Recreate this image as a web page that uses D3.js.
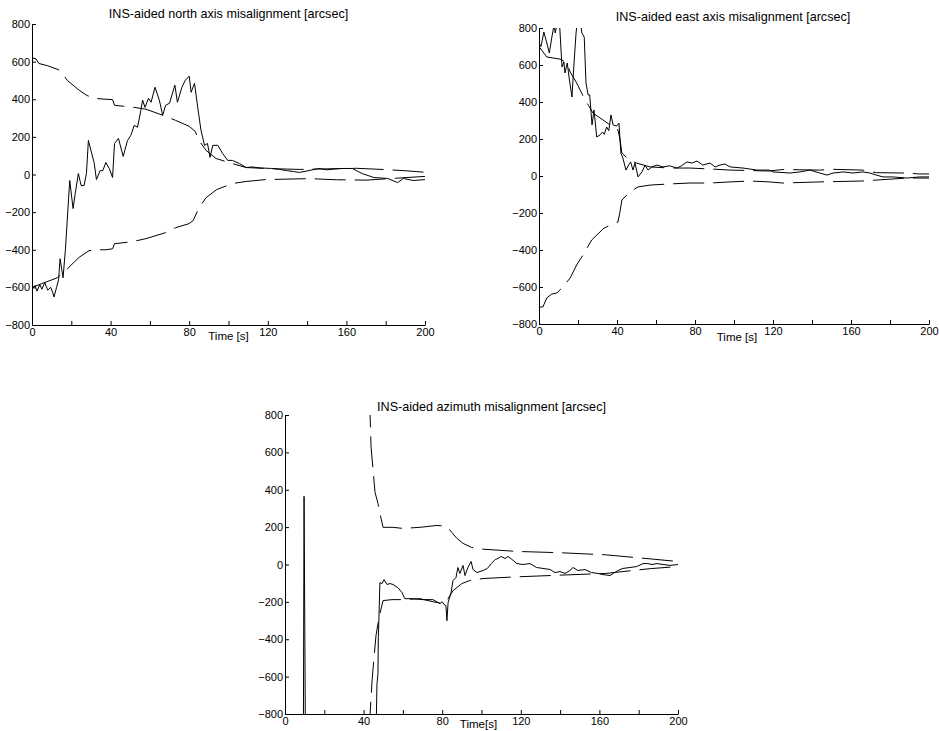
<!DOCTYPE html>
<html lang="en">
<head>
<meta charset="UTF-8">
<title>INS-aided misalignment</title>
<script src="https://d3js.org/d3.v7.min.js"></script>
<style>
    body { margin: 0; background: #fff; }
    svg { font-family: "Liberation Sans", Arial, sans-serif; }
    .axis text { font-size: 11px; fill: #000; }
    .axis path, .axis line { stroke: #000; }
    .title { font-size: 12.6px; fill: #000; }
    .xlabel { font-size: 11.5px; fill: #000; }
</style>
</head>
<body>
<div id="chart"></div>
<script>
// time [s] / misalignment [arcsec] pairs
const northEst = [[0,-608],[1.5,-590],[2.5,-620],[4,-585],[5,-610],[6.5,-575],[8,-615],[9.5,-600],[10.5,-625],[11.2,-651],[12.5,-600],[13.5,-560],[14.3,-448],[15.8,-549],[17,-400],[19.2,-32],[20.9,-181],[22,-101],[23.6,5],[25,-59],[26.5,-59],[27.7,5],[28.7,181],[30.2,120],[31.6,64],[32.8,-27],[34.7,21],[36,20],[37.6,64],[39.3,32],[41,-16],[42,165],[44,192],[46.4,96],[48.6,181],[50.3,208],[52,261],[53.7,251],[55.4,341],[56.3,395],[57.5,357],[59.3,405],[60.6,384],[62.6,464],[64.8,395],[66.5,315],[68,368],[70,379],[72.7,475],[74,384],[76.3,464],[78,501],[80,523],[81,437],[82.7,485],[84.4,352],[86,235],[87.8,155],[89.3,165],[90.6,91],[92,155],[94.6,155],[97,112],[99.6,75],[102,75],[105.6,58],[109,37],[112,40],[116,35],[122,32],[126,27],[130,20],[133,16],[136,11],[141,21],[146,32],[150,25],[157,32],[163,32],[168,5],[174,-16],[181,-21],[186,-43],[189,-21],[194,-32],[200,-27]];
const northUpper = [[0,620],[2,615],[3.5,590],[8,578],[14,555],[18,500],[24,448],[28,420],[31.6,405],[37.6,400],[41,398],[42,368],[52,357],[58,347],[66.5,315],[73,288],[80,256],[83,230],[85,181],[88.6,128],[93.7,85],[102,58],[109,37],[119,32],[136,27],[150,30],[165,33],[180,26],[190,20],[200,12]];
const northLower = [[0,-600],[5,-580],[12.9,-549],[18,-501],[24,-440],[29,-405],[32.5,-400],[37.6,-400],[41,-395],[42,-368],[51,-357],[58,-341],[68,-309],[73,-283],[80,-261],[82,-245],[85,-176],[88.6,-123],[94,-80],[102,-48],[109,-37],[119,-27],[141,-22],[155,-28],[170,-30],[185,-20],[200,-10]];

const eastEst = [[0,719],[1,700],[2.5,778],[4,719],[5.3,665],[6.6,751],[7.8,820],[8.3,773],[9.5,830],[10.5,830],[11.8,589],[12.8,616],[13.3,557],[14.5,611],[15.4,535],[16.9,427],[17.5,535],[19,773],[19.8,850],[21,850],[22,773],[23.2,751],[24.1,503],[25.2,438],[26,438],[27.2,276],[28.2,357],[29.6,211],[31.3,222],[32.6,238],[33.5,225],[34.7,265],[35.8,245],[36.9,330],[38,276],[39.8,270],[41,286],[42,124],[43,97],[44.6,32],[46,60],[47,76],[48.2,32],[49.2,70],[50.8,-5],[52.8,22],[54.4,59],[55.9,32],[57.9,49],[60.5,59],[63.6,49],[67,55],[70.8,43],[73,55],[75.9,76],[78.5,70],[81,81],[84,59],[87.7,70],[90.3,49],[92.8,59],[95.4,65],[98,49],[104.6,43],[111.8,32],[118,32],[120,22],[128.7,16],[133.8,22],[139,32],[144,16],[147.7,5],[150.8,16],[156,22],[161,16],[166,22],[169.7,16],[173,5],[176.4,-5],[181.5,-5],[188.7,-11],[195,-5],[200,-5]];
const eastUpper = [[0,700],[4,643],[10.8,632],[14.3,611],[16,562],[19.3,503],[23.6,411],[25.5,380],[27.7,340],[32.8,303],[36.4,276],[40.5,249],[41.5,200],[42.5,124],[45.6,92],[50,70],[57,49],[67,43],[77.4,43],[87.7,38],[98,32],[118,27],[125,35],[144,32],[151,36],[166,32],[173,18],[188.7,16],[195,11],[200,11]];
const eastLower = [[0,-708],[2,-708],[4,-659],[6.6,-638],[9.2,-632],[11.8,-605],[16,-551],[19.3,-481],[22.6,-427],[27,-346],[29.7,-319],[32.8,-286],[36.4,-265],[40.5,-249],[41.5,-195],[42.5,-130],[45,-103],[48.2,-76],[50.8,-59],[57,-49],[67,-43],[77.4,-38],[87.7,-38],[98,-32],[108,-27],[118,-32],[125,-38],[144,-32],[166,-27],[173,-22],[188.7,-11],[200,-11]];

const azimEst = [[0,-1500],[9.2,-1500],[9.7,365],[10.7,-1500],[45.3,-1500],[46.8,-639],[47.3,-585],[47.5,-392],[47.8,-285],[48.3,-97],[49.4,-102],[50.4,-81],[51.9,-107],[53.4,-102],[55,-107],[57.5,-124],[59.5,-150],[61,-183],[65,-183],[70,-188],[75.3,-188],[78.9,-209],[80,-199],[81,-215],[81.9,-220],[82.4,-301],[83,-204],[84.5,-150],[85.5,-86],[87,-70],[88,-16],[89,-48],[90.6,-5],[91.6,-59],[93.1,-16],[94.7,16],[95.7,-27],[97.7,-43],[100.8,-32],[103,-21],[105,5],[107,27],[108.4,32],[110,43],[112,32],[113.5,43],[115.5,27],[118,5],[121,0],[124.7,5],[128,-16],[131.3,-21],[134.9,-27],[137.4,-43],[140,-38],[142.5,-48],[145,-32],[146.6,-16],[149,-32],[152.7,-27],[156,-43],[159.3,-48],[161.8,-54],[165.4,-59],[167,-48],[169.5,-32],[172,-21],[175.6,-16],[179,-11],[182.2,5],[184.7,5],[186.8,0],[189.3,5],[192.4,0],[195.9,-5],[200,0]];
const azimUpper = [[43,900],[43.3,800],[43.8,628],[44.3,569],[45.8,387],[47.3,328],[48.3,274],[49.9,199],[55,199],[60,193],[68.7,199],[77.4,209],[82.4,204],[85,170],[87.5,140],[90.6,113],[95,91],[100.8,82],[118,70],[140,63],[163,52],[186,30],[200,16]];
const azimLower = [[43,-900],[43.3,-800],[44.3,-623],[44.8,-558],[46.3,-381],[47.3,-317],[48.3,-263],[49.9,-193],[54.5,-188],[60,-188],[68.7,-183],[75.3,-199],[79.9,-209],[82.4,-193],[85.5,-140],[90,-102],[94,-86],[100.8,-75],[118,-66],[140,-57],[163,-48],[186,-22],[200,-11]];

const xTicks = d3.range(0, 201, 20);
const yTicks = d3.range(-800, 801, 200);

const svg = d3.select("#chart").append("svg")
    .attr("width", 939)
    .attr("height", 731);

const panels = [
    {id: "n", x0: 32, x1: 425, y0: 24, y1: 325, title: "INS-aided north axis misalignment [arcsec]",
     titleDx: 0, titleY: 18, xlabel: "Time [s]", xlabelDx: 0, xlabelY: 340,
     est: northEst, bounds: [northUpper, northLower]},
    {id: "e", x0: 539, x1: 929, y0: 28, y1: 324, title: "INS-aided east axis misalignment [arcsec]",
     titleDx: -1, titleY: 21, xlabel: "Time [s]", xlabelDx: 3, xlabelY: 341,
     est: eastEst, bounds: [eastUpper, eastLower]},
    {id: "a", x0: 285, x1: 678, y0: 415, y1: 714, title: "INS-aided azimuth misalignment [arcsec]",
     titleDx: 10, titleY: 411, xlabel: "Time[s]", xlabelDx: -3, xlabelY: 728,
     est: azimEst, bounds: [azimUpper, azimLower]}
];

panels.forEach(p => {
    const x = d3.scaleLinear().domain([0, 200]).range([p.x0, p.x1]);
    const y = d3.scaleLinear().domain([-800, 800]).range([p.y1, p.y0]);

    svg.append("clipPath").attr("id", "clip-" + p.id)
        .append("rect")
        .attr("x", p.x0).attr("y", p.y0)
        .attr("width", p.x1 - p.x0).attr("height", p.y1 - p.y0);

    const line = d3.line().x(d => x(d[0])).y(d => y(d[1]));
    const g = svg.append("g").attr("clip-path", `url(#clip-${p.id})`);

    // +/- sigma envelope, dashed
    p.bounds.forEach(b => {
        g.append("path")
            .datum(b)
            .attr("d", line)
            .attr("fill", "none")
            .attr("stroke", "#000")
            .attr("stroke-width", 1)
            .attr("stroke-dasharray", "31,9");
    });

    g.append("path")
        .datum(p.est)
        .attr("d", line)
        .attr("fill", "none")
        .attr("stroke", "#000")
        .attr("stroke-width", 1);

    svg.append("g")
        .attr("class", "axis")
        .attr("transform", `translate(0,${p.y1})`)
        .call(d3.axisBottom(x).tickValues(xTicks)
            .tickFormat(d => d % 40 === 0 ? d : "")
            .tickSizeInner(-4).tickSizeOuter(0).tickPadding(3));

    svg.append("g")
        .attr("class", "axis")
        .attr("transform", `translate(${p.x0},0)`)
        .call(d3.axisLeft(y).tickValues(yTicks)
            .tickSizeInner(-4).tickSizeOuter(0).tickPadding(2));

    svg.append("text")
        .attr("class", "title")
        .attr("x", (p.x0 + p.x1) / 2 + p.titleDx)
        .attr("y", p.titleY)
        .attr("text-anchor", "middle")
        .text(p.title);

    svg.append("text")
        .attr("class", "xlabel")
        .attr("x", (p.x0 + p.x1) / 2 + p.xlabelDx)
        .attr("y", p.xlabelY)
        .attr("text-anchor", "middle")
        .text(p.xlabel);
});
</script>
</body>
</html>
